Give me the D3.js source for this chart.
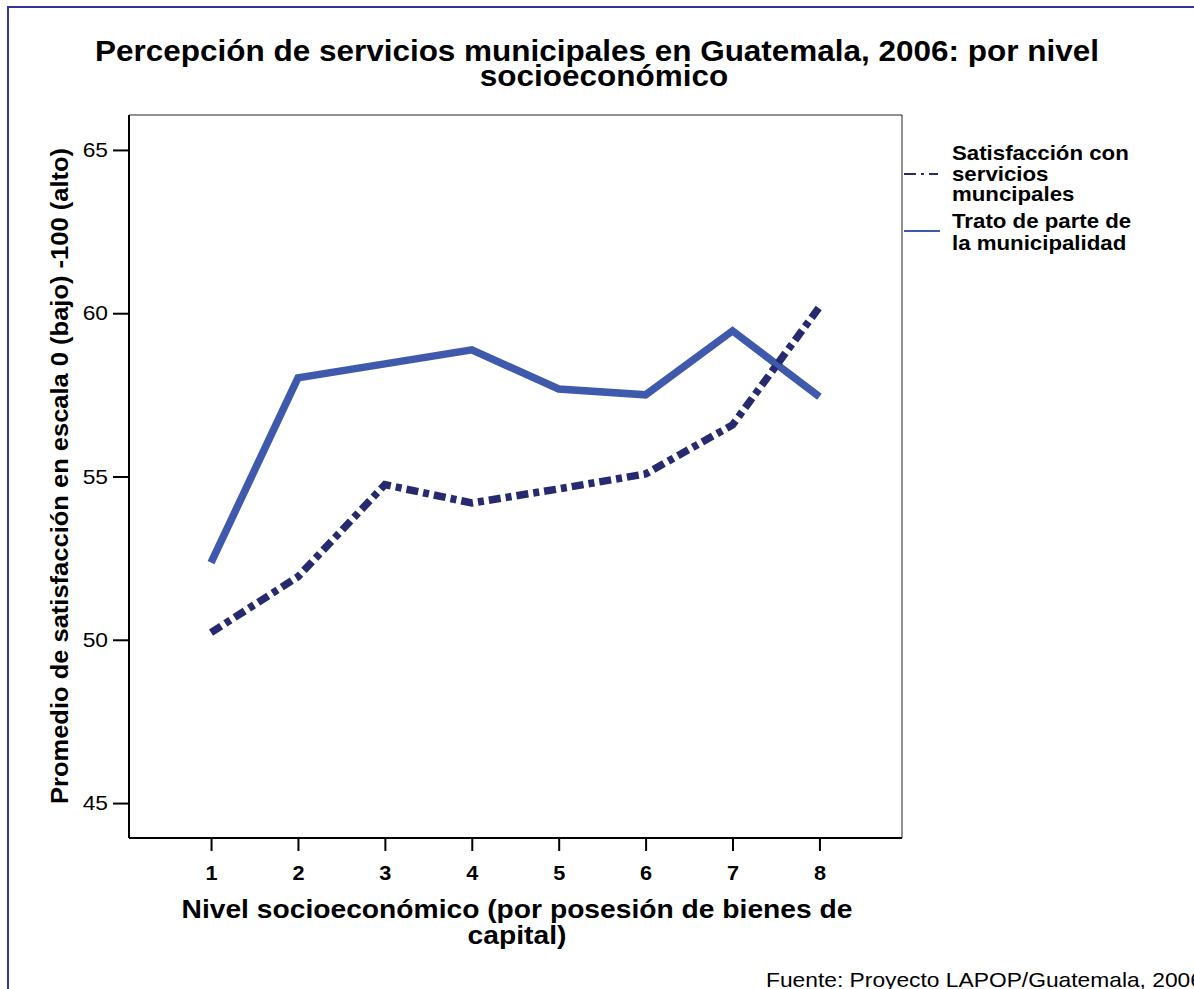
<!DOCTYPE html>
<html><head><meta charset="utf-8">
<script src="https://cdn.jsdelivr.net/npm/d3@7"></script>
<style>
html,body{margin:0;padding:0;background:#fff;}
svg{display:block;font-family:"Liberation Sans",Arial,sans-serif;}
</style></head>
<body>
<svg id="chart" width="1194" height="989"></svg>
<script>
const levels = [1, 2, 3, 4, 5, 6, 7, 8];
const satisfaccion = [50.22, 51.93, 54.75, 54.19, 54.62, 55.08, 56.58, 60.19];
const trato = [52.36, 58.02, 58.45, 58.88, 57.68, 57.50, 59.46, 57.44];
const yTicks = [45, 50, 55, 60, 65];
const seriesNames = [["Satisfacción con","servicios","muncipales"], ["Trato de parte de","la municipalidad"]];
const titleLines = ["Percepción de servicios municipales en Guatemala, 2006: por nivel", "socioeconómico"];
const xLabelLines = ["Nivel socioeconómico (por posesión de bienes de", "capital)"];
const yLabel = "Promedio de satisfacción en escala 0 (bajo) -100 (alto)";
const source = "Fuente: Proyecto LAPOP/Guatemala, 2006";

const STRETCH = 1.085;
function stretch(sel){
  sel.each(function(){
    const w = this.getComputedTextLength();
    d3.select(this).attr("textLength", w*STRETCH).attr("lengthAdjust","spacingAndGlyphs");
  });
}

const svg = d3.select("#chart");
// outer frame
svg.append("path").attr("d","M8,989 L8,7 L1194,7").attr("fill","none").attr("stroke","#333399").attr("stroke-width",2);

const L = 129, R = 902, T = 115, B = 838;
const x = d3.scaleLinear().domain([0.056, 8.95]).range([L, R]);
const y = d3.scaleLinear().domain([43.93, 66.07]).range([B, T]);

// plot box top/right thin
svg.append("path").attr("d",`M${L},${T} L${R},${T} L${R},${B}`).attr("fill","none").attr("stroke","#222").attr("stroke-width",1);

// axes
const yAxis = svg.append("g").attr("transform",`translate(${L},0)`)
  .call(d3.axisLeft(y).tickValues(yTicks).tickSize(16).tickPadding(5).tickSizeOuter(0));
yAxis.select(".domain").attr("stroke-width",2).attr("d",`M0,${T} L0,${B}`);
yAxis.selectAll(".tick line").attr("stroke-width",2);
yAxis.selectAll(".tick text").attr("font-size",21).attr("font-family","Liberation Sans, Arial, sans-serif").attr("fill","#000").call(stretch);

const xAxis = svg.append("g").attr("transform",`translate(0,${B})`)
  .call(d3.axisBottom(x).tickValues(levels).tickSize(13).tickPadding(15).tickSizeOuter(0));
xAxis.select(".domain").attr("stroke-width",2).attr("d",`M${L},0 L${R},0`);
xAxis.selectAll(".tick line").attr("stroke-width",2);
xAxis.selectAll(".tick text").attr("font-size",20).attr("font-weight","bold").attr("font-family","Liberation Sans, Arial, sans-serif").attr("fill","#000").call(stretch);

const line = d3.line().x((d,i)=>x(levels[i])).y(d=>y(d));

svg.append("path").datum(trato).attr("d",line).attr("fill","none")
  .attr("stroke","#3f59ad").attr("stroke-width",7.5).attr("stroke-linejoin","miter");
svg.append("path").datum(satisfaccion).attr("d",line).attr("fill","none")
  .attr("stroke","#272a6e").attr("stroke-width",7.5).attr("stroke-dasharray","12,5,6,5");

// title
const titleY = [61, 86];
const titleX = [597, 604];
titleLines.forEach((t,i)=>{
  svg.append("text").attr("x",titleX[i]).attr("y",titleY[i]).attr("text-anchor","middle")
    .attr("font-weight","bold").attr("font-size",29).attr("fill","#000").text(t).call(stretch);
});

// y label
svg.append("text").attr("transform","translate(68,476) rotate(-90)").attr("text-anchor","middle")
  .attr("font-weight","bold").attr("font-size",23.5).attr("fill","#000")
  .text(yLabel).call(stretch);

// x label
const xlY = [918, 944];
xLabelLines.forEach((t,i)=>{
  svg.append("text").attr("x",517).attr("y",xlY[i]).attr("text-anchor","middle")
    .attr("font-weight","bold").attr("font-size",26).attr("fill","#000").text(t).call(stretch);
});

// legend
const lg = svg.append("g");
lg.append("line").attr("x1",904).attr("x2",938).attr("y1",174).attr("y2",174)
  .attr("stroke","#272a6e").attr("stroke-width",2).attr("stroke-dasharray","12,5,3,5");
lg.append("line").attr("x1",904).attr("x2",940).attr("y1",231).attr("y2",231)
  .attr("stroke","#3f59ad").attr("stroke-width",2);
const legY = [[160,180.5,201],[227.5,249.5]];
seriesNames.forEach((lines,k)=>{
  lines.forEach((s,i)=>{
    lg.append("text").attr("x",952).attr("y",legY[k][i]).attr("font-weight","bold")
      .attr("font-size",20.5).attr("fill","#000").text(s).call(stretch);
  });
});

// footnote
svg.append("text").attr("x",766).attr("y",987).attr("font-size",21).attr("fill","#000")
  .text(source).call(stretch);
</script>
</body></html>
